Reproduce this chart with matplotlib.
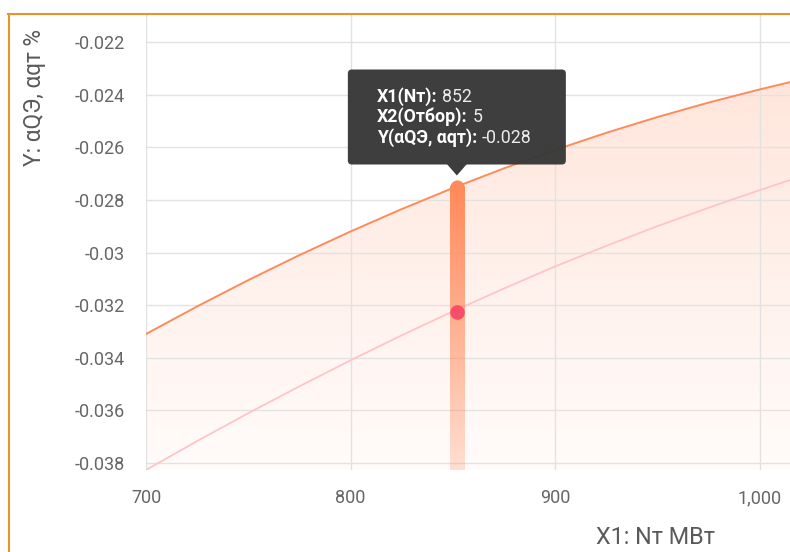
import numpy as np
import matplotlib
matplotlib.use('Agg')
import matplotlib.pyplot as plt
from matplotlib.patches import FancyBboxPatch, Polygon
from matplotlib.lines import Line2D
from matplotlib.transforms import IdentityTransform
import matplotlib.colors as mcolors

plt.rcParams['font.family'] = ['Roboto', 'DejaVu Sans']

# ---- data ----
x_nt = [700, 725, 750, 775, 800, 825, 850, 875, 900, 925, 950, 975, 1000, 1015]
y_upper = [-0.03310, -0.03205, -0.03105, -0.03010, -0.02920, -0.02835, -0.02755,
           -0.02680, -0.02610, -0.02545, -0.02485, -0.02430, -0.02380, -0.02352]
y_lower = [-0.03827, -0.03717, -0.03611, -0.03509, -0.03410, -0.03315, -0.03224,
           -0.03137, -0.03053, -0.02975, -0.02900, -0.02830, -0.02763, -0.02724]

x_ticks = [700, 800, 900, 1000]
x_tick_labels = ['700', '800', '900', '1,000']
y_ticks = [-0.038, -0.036, -0.034, -0.032, -0.030, -0.028, -0.026, -0.024, -0.022]
y_tick_labels = ['-0.038', '-0.036', '-0.034', '-0.032', '-0.03', '-0.028',
                 '-0.026', '-0.024', '-0.022']

hover_x = 852
hover_upper = -0.02749
hover_lower = -0.03225
tooltip_labels = ['X1(Nт):', 'X2(Отбор):', 'Y(αQЭ, αqт):']
tooltip_values = ['852', '5', '-0.028']

x_label = 'X1: Nт МВт'
y_label = 'Y: αQЭ, αqт %'

# ---- styling ----
W, H = 790, 552
ORANGE = '#ff8a5b'
PINK = '#ffc4c8'
DOT = '#f74f6b'
GRID = '#e2e2e2'
TICK_C = '#666666'
LABEL_C = '#5a5a5a'

fig = plt.figure(figsize=(W / 100, H / 100), dpi=100)
ax = fig.add_axes([146 / W, 1 - 470 / H, (W - 146) / W, (470 - 14) / H])
xlim = (700, 1014.9)
ylim = (-0.03827, -0.02093)
ax.set_xlim(*xlim)
ax.set_ylim(*ylim)

for s in ax.spines.values():
    s.set_visible(False)
ax.set_xticks(x_ticks)
ax.set_xticklabels(x_tick_labels)
ax.set_yticks(y_ticks)
ax.set_yticklabels(y_tick_labels)
ax.tick_params(length=0, labelsize=13, colors=TICK_C)
ax.tick_params(axis='x', pad=14)
ax.tick_params(axis='y', pad=15)
ax.grid(True, color=GRID, lw=1.0)

# gradient fill under upper curve
rgb = mcolors.to_rgb(ORANGE)
n = 256
grad = np.zeros((n, 1, 4))
grad[:, 0, :3] = rgb
grad[:, 0, 3] = np.linspace(0.03, 0.25, n)
im = ax.imshow(grad, extent=[xlim[0], xlim[1], ylim[0], ylim[1]], origin='lower',
               aspect='auto', zorder=0, interpolation='bilinear')
poly = ax.fill_between(x_nt, y_upper, ylim[0], facecolor='none', edgecolor='none')
im.set_clip_path(poly.get_paths()[0], ax.transData)

ax.plot(x_nt, y_lower, color=PINK, lw=1.3, zorder=2)
ax.plot(x_nt, y_upper, color=ORANGE, lw=1.4, zorder=2)

# hover bar with gradient
half_w = 7 / (ax.transData.transform((1, 0))[0] - ax.transData.transform((0, 0))[0])
bgrad = np.zeros((n, 1, 4))
bgrad[:, 0, :3] = rgb
bgrad[:, 0, 3] = np.linspace(0.25, 1.0, n)
ax.imshow(bgrad, extent=[hover_x - half_w, hover_x + half_w, ylim[0], hover_upper],
          origin='lower', aspect='auto', zorder=3, interpolation='bilinear')
ax.plot([hover_x], [hover_upper], 'o', ms=10.2, color=ORANGE, mec='none', zorder=3)
ax.set_xlim(*xlim)
ax.set_ylim(*ylim)
ax.plot([hover_x], [hover_lower], 'o', ms=10.5, color=DOT, mec='none', zorder=4)

# tooltip
axp, ayp = ax.transData.transform((hover_x, hover_upper))
box = FancyBboxPatch((axp - 109 + 4, ayp + 22 + 4), 218 - 8, 95 - 8,
                     boxstyle='round,pad=4', transform=IdentityTransform(),
                     facecolor='#383838', edgecolor='none', alpha=0.97, zorder=10)
fig.add_artist(box)
tri = Polygon([(axp - 10, ayp + 22.5), (axp + 10, ayp + 22.5), (axp, ayp + 11)],
              closed=True, transform=IdentityTransform(), facecolor='#383838',
              edgecolor='none', alpha=0.97, zorder=10)
fig.add_artist(tri)

renderer = fig.canvas.get_renderer()
row_dy = [90, 70, 49]
for lab, val, dy in zip(tooltip_labels, tooltip_values, row_dy):
    t = fig.text((axp - 80) / W, (ayp + dy) / H, lab, fontsize=12.8, fontweight='bold',
                 color='#ffffff', ha='left', va='center', zorder=11)
    bb = t.get_window_extent(renderer)
    fig.text((bb.x1 + 5) / W, (ayp + dy) / H, val, fontsize=12.8,
             color='#ececec', ha='left', va='center', zorder=11)

# axis titles
fig.text(35 / W, 1 - 29 / H, y_label, rotation=90, ha='center', va='top',
         fontsize=16.3, color=LABEL_C)
fig.text(656 / W, 1 - 537 / H, x_label, ha='center', va='center',
         fontsize=16.8, color=LABEL_C)

# orange frame
fig.add_artist(Line2D([8, W], [H - 13.5, H - 13.5], transform=IdentityTransform(),
                      color='#ee9030', lw=1.5))
fig.add_artist(Line2D([8.5, 8.5], [0, H - 13.5], transform=IdentityTransform(),
                      color='#ee9030', lw=1.5))

fig.savefig('out.png', dpi=100)
